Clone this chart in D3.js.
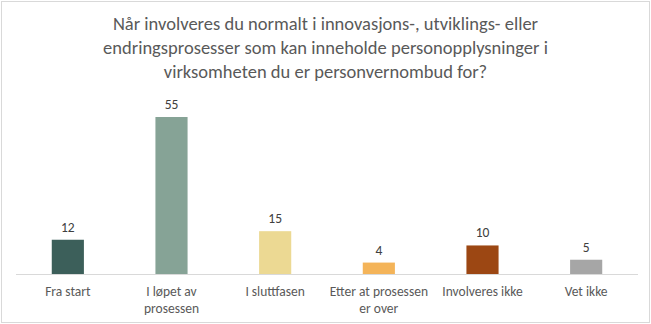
<!DOCTYPE html>
<html><head><meta charset="utf-8">
<script src="https://cdn.jsdelivr.net/npm/d3@7"></script>
<style>html,body{margin:0;padding:0;background:#fff;}svg{display:block;}</style>
</head><body>
<script>
const categories = [["Fra start"],["I løpet av","prosessen"],["I sluttfasen"],["Etter at prosessen","er over"],["Involveres ikke"],["Vet ikke"]];
const values = [12, 55, 15, 4, 10, 5];
const colors = ["#3c5f5a","#86a396","#ecd993","#f4b459","#9c4713","#a6a6a6"];
const titleLines = ["Når involveres du normalt i innovasjons-, utviklings- eller","endringsprosesser som kan inneholde personopplysninger i","virksomheten du er personvernombud for?"];

const W = 651, H = 324;
const font = "Carlito, Calibri, Lato, 'Open Sans', sans-serif";
const svg = d3.select("body").append("svg").attr("width", W).attr("height", H);
svg.append("rect").attr("x",1.5).attr("y",1.5).attr("width",W-3).attr("height",H-3)
  .attr("fill","#fff").attr("stroke","#d9d9d9").attr("stroke-width",1);

svg.append("g").selectAll("text").data(titleLines).join("text")
  .attr("x", W/2).attr("y",(d,i)=>30 + i*24)
  .attr("text-anchor","middle").attr("fill","#595959")
  .style("font-family",font).style("font-size","18.5px").text(d=>d);

const idx = d3.range(values.length);
const x = d3.scaleBand().domain(idx).range([16, 638]).paddingInner(0.69).paddingOuter(0.345);
const y = d3.scaleLinear().domain([0, 55]).range([274, 117]);

svg.append("g").selectAll("rect").data(values).join("rect")
  .attr("x",(d,i)=>x(i)).attr("width",x.bandwidth())
  .attr("y",d=>y(d)).attr("height",d=>y(0)-y(d))
  .attr("fill",(d,i)=>colors[i]);

svg.append("g").selectAll("text").data(values).join("text")
  .attr("x",(d,i)=>x(i)+x.bandwidth()/2).attr("y",d=>y(d)-8)
  .attr("text-anchor","middle").attr("fill","#404040")
  .style("font-family",font).style("font-size","13.5px").text(d=>d);

const axis = d3.axisBottom(x).tickSize(0).tickFormat("");
const ag = svg.append("g").attr("transform",`translate(0,${y(0)})`).call(axis);
ag.select(".domain").attr("stroke","#d9d9d9").attr("d","M16,0.5H638");

const lab = svg.append("g").selectAll("text").data(categories).join("text")
  .attr("text-anchor","middle").attr("fill","#595959")
  .style("font-family",font).style("font-size","13.5px");
lab.each(function(lines,i){
  d3.select(this).selectAll("tspan").data(lines).join("tspan")
    .attr("x", x(i)+x.bandwidth()/2).attr("y",(d,j)=>296 + j*16.5).text(d=>d);
});
</script>
</body></html>
